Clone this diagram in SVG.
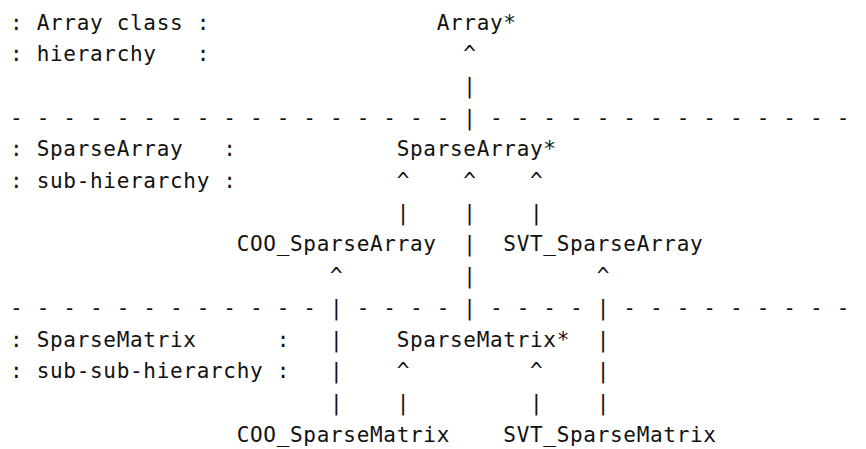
<svg xmlns="http://www.w3.org/2000/svg" width="866" height="449" viewBox="0 0 866 449">
<style>
text { font-family: "DejaVu Sans Mono", "Liberation Mono", monospace; font-size: 21px; letter-spacing: 0.69px; fill: #111; white-space: pre; }
</style>
<rect width="866" height="449" fill="#fff"/>
<g id="labels">
<text x="10" y="29.5" xml:space="preserve">: Array class :</text>
<text x="10" y="61.2" xml:space="preserve">: hierarchy   :</text>
<text x="10" y="156.3" xml:space="preserve">: SparseArray   :</text>
<text x="10" y="188" xml:space="preserve">: sub-hierarchy :</text>
<text x="10" y="346.5" xml:space="preserve">: SparseMatrix      :</text>
<text x="10" y="378.2" xml:space="preserve">: sub-sub-hierarchy :</text>
</g>
<g id="separators">
<text x="10" y="124.6" xml:space="preserve">- - - - - - - - - - - - - - - - -</text>
<text x="490" y="124.6" xml:space="preserve">- - - - - - - - - - - - - - - -</text>
<text x="10" y="314.8" xml:space="preserve">- - - - - - - - - - - -</text>
<text x="356.7" y="314.8" xml:space="preserve">- - - -</text>
<text x="490" y="314.8" xml:space="preserve">- - - -</text>
<text x="623.3" y="314.8" xml:space="preserve">- - - - - - - - - - -</text>
</g>
<g id="node-Array"><text x="436.7" y="29.5">Array*</text></g>
<g id="node-SparseArray"><text x="396.7" y="156.3">SparseArray*</text></g>
<g id="node-COO_SparseArray"><text x="236.7" y="251.4">COO_SparseArray</text></g>
<g id="node-SVT_SparseArray"><text x="503.3" y="251.4">SVT_SparseArray</text></g>
<g id="node-SparseMatrix"><text x="396.7" y="346.5">SparseMatrix*</text></g>
<g id="node-COO_SparseMatrix"><text x="236.7" y="441.6">COO_SparseMatrix</text></g>
<g id="node-SVT_SparseMatrix"><text x="503.3" y="441.6">SVT_SparseMatrix</text></g>
<g id="connectors">
<text x="463.3" y="61.2">^</text>
<text x="463.3" y="92.9">|</text>
<text x="463.3" y="124.6">|</text>
<text x="396.7" y="188">^</text>
<text x="463.3" y="188">^</text>
<text x="530" y="188">^</text>
<text x="396.7" y="219.7">|</text>
<text x="463.3" y="219.7">|</text>
<text x="530" y="219.7">|</text>
<text x="463.3" y="251.4">|</text>
<text x="330" y="283.1">^</text>
<text x="463.3" y="283.1">|</text>
<text x="596.7" y="283.1">^</text>
<text x="330" y="314.8">|</text>
<text x="463.3" y="314.8">|</text>
<text x="596.7" y="314.8">|</text>
<text x="330" y="346.5">|</text>
<text x="596.7" y="346.5">|</text>
<text x="330" y="378.2">|</text>
<text x="396.7" y="378.2">^</text>
<text x="530" y="378.2">^</text>
<text x="596.7" y="378.2">|</text>
<text x="330" y="409.9">|</text>
<text x="396.7" y="409.9">|</text>
<text x="530" y="409.9">|</text>
<text x="596.7" y="409.9">|</text>
</g>
</svg>
